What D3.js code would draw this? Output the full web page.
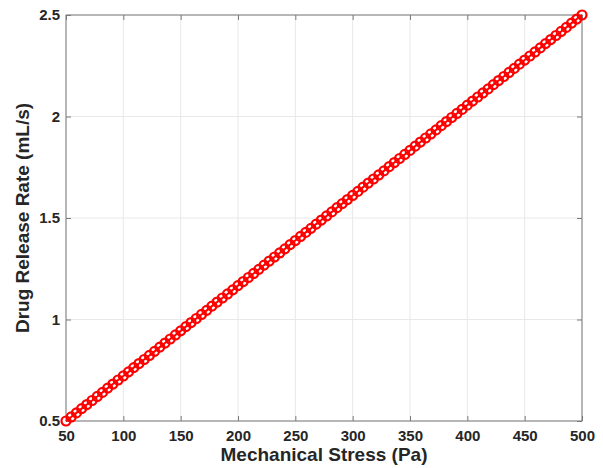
<!DOCTYPE html>
<html>
<head>
<meta charset="utf-8">
<script src="https://cdn.jsdelivr.net/npm/d3@7"></script>
<style>
  body { margin: 0; background: #fff; }
  svg { font-family: "Liberation Sans", Arial, sans-serif; }
  .tick-label { font-size: 15px; font-weight: bold; fill: #262626; }
  .axis-label { font-size: 19px; font-weight: bold; fill: #262626; }
</style>
</head>
<body>
<svg id="chart" width="603" height="468"></svg>
<script>
// ----------

const STRESS = [
  50.00, 54.55, 59.09, 63.64, 68.18, 72.73, 77.27, 81.82, 86.36, 90.91,
  95.45, 100.00, 104.55, 109.09, 113.64, 118.18, 122.73, 127.27, 131.82, 136.36,
  140.91, 145.45, 150.00, 154.55, 159.09, 163.64, 168.18, 172.73, 177.27, 181.82,
  186.36, 190.91, 195.45, 200.00, 204.55, 209.09, 213.64, 218.18, 222.73, 227.27,
  231.82, 236.36, 240.91, 245.45, 250.00, 254.55, 259.09, 263.64, 268.18, 272.73,
  277.27, 281.82, 286.36, 290.91, 295.45, 300.00, 304.55, 309.09, 313.64, 318.18,
  322.73, 327.27, 331.82, 336.36, 340.91, 345.45, 350.00, 354.55, 359.09, 363.64,
  368.18, 372.73, 377.27, 381.82, 386.36, 390.91, 395.45, 400.00, 404.55, 409.09,
  413.64, 418.18, 422.73, 427.27, 431.82, 436.36, 440.91, 445.45, 450.00, 454.55,
  459.09, 463.64, 468.18, 472.73, 477.27, 481.82, 486.36, 490.91, 495.45, 500.00
];

const RELEASE_RATE = [
  0.500, 0.520, 0.540, 0.561, 0.581, 0.601, 0.621, 0.641, 0.662, 0.682,
  0.702, 0.722, 0.742, 0.763, 0.783, 0.803, 0.823, 0.843, 0.864, 0.884,
  0.904, 0.924, 0.944, 0.965, 0.985, 1.005, 1.025, 1.045, 1.066, 1.086,
  1.106, 1.126, 1.146, 1.167, 1.187, 1.207, 1.227, 1.247, 1.268, 1.288,
  1.308, 1.328, 1.348, 1.369, 1.389, 1.409, 1.429, 1.449, 1.470, 1.490,
  1.510, 1.530, 1.551, 1.571, 1.591, 1.611, 1.631, 1.652, 1.672, 1.692,
  1.712, 1.732, 1.753, 1.773, 1.793, 1.813, 1.833, 1.854, 1.874, 1.894,
  1.914, 1.934, 1.955, 1.975, 1.995, 2.015, 2.035, 2.056, 2.076, 2.096,
  2.116, 2.136, 2.157, 2.177, 2.197, 2.217, 2.237, 2.258, 2.278, 2.298,
  2.318, 2.338, 2.359, 2.379, 2.399, 2.419, 2.439, 2.460, 2.480, 2.500
];

const X_TICKS = [50, 100, 150, 200, 250, 300, 350, 400, 450, 500];
const Y_TICKS = [0.5, 1, 1.5, 2, 2.5];
const X_LABEL = "Mechanical Stress (Pa)";
const Y_LABEL = "Drug Release Rate (mL/s)";

// ----------

const margin = { top: 15, right: 21, bottom: 47, left: 66 };
const width = 603 - margin.left - margin.right;
const height = 468 - margin.top - margin.bottom;
const TICK_LEN = 5;

const svg = d3.select("#chart");
const g = svg.append("g").attr("transform", `translate(${margin.left},${margin.top})`);

const x = d3.scaleLinear().domain([50, 500]).range([0, width]);
const y = d3.scaleLinear().domain([0.5, 2.5]).range([height, 0]);

// grid
g.append("g")
  .selectAll("line")
  .data(X_TICKS)
  .join("line")
  .attr("x1", d => x(d)).attr("x2", d => x(d))
  .attr("y1", 0).attr("y2", height)
  .attr("stroke", "#e8e8e8").attr("stroke-width", 1);

g.append("g")
  .selectAll("line")
  .data(Y_TICKS)
  .join("line")
  .attr("x1", 0).attr("x2", width)
  .attr("y1", d => y(d)).attr("y2", d => y(d))
  .attr("stroke", "#e8e8e8").attr("stroke-width", 1);

// axes (ticks inward, box on)
function styleAxis(sel) {
  sel.select(".domain").remove();
  sel.selectAll(".tick line").attr("stroke", "#7a7a7a");
}

const xBottom = g.append("g")
  .attr("transform", `translate(0,${height})`)
  .call(d3.axisBottom(x).tickValues(X_TICKS).tickSizeInner(-TICK_LEN).tickSizeOuter(0).tickPadding(9).tickFormat(d3.format("d")));
styleAxis(xBottom);
xBottom.selectAll("text").attr("class", "tick-label");

const xTop = g.append("g")
  .call(d3.axisTop(x).tickValues(X_TICKS).tickSizeInner(-TICK_LEN).tickSizeOuter(0).tickFormat(""));
styleAxis(xTop);

const yLeft = g.append("g")
  .call(d3.axisLeft(y).tickValues(Y_TICKS).tickSizeInner(-TICK_LEN).tickSizeOuter(0).tickPadding(6).tickFormat(d => d));
styleAxis(yLeft);
yLeft.selectAll("text").attr("class", "tick-label");

const yRight = g.append("g")
  .attr("transform", `translate(${width},0)`)
  .call(d3.axisRight(y).tickValues(Y_TICKS).tickSizeInner(-TICK_LEN).tickSizeOuter(0).tickFormat(""));
styleAxis(yRight);

g.append("rect")
  .attr("width", width).attr("height", height)
  .attr("fill", "none").attr("stroke", "#7a7a7a").attr("stroke-width", 1);

// data
const points = STRESS.map((s, i) => ({ x: s, y: RELEASE_RATE[i] }));

g.append("path")
  .datum(points)
  .attr("fill", "none")
  .attr("stroke", "#ff0000")
  .attr("stroke-width", 2)
  .attr("d", d3.line().x(d => x(d.x)).y(d => y(d.y)));

g.append("g")
  .selectAll("circle")
  .data(points)
  .join("circle")
  .attr("cx", d => x(d.x))
  .attr("cy", d => y(d.y))
  .attr("r", 4.5)
  .attr("fill", "none")
  .attr("stroke", "#ff0000")
  .attr("stroke-width", 2.2);

// labels
svg.append("text")
  .attr("class", "axis-label")
  .attr("x", margin.left + width / 2)
  .attr("y", 461)
  .attr("text-anchor", "middle")
  .text(X_LABEL);

svg.append("text")
  .attr("class", "axis-label")
  .attr("transform", `translate(29,${margin.top + height / 2}) rotate(-90)`)
  .attr("text-anchor", "middle")
  .text(Y_LABEL);
</script>
</body>
</html>
